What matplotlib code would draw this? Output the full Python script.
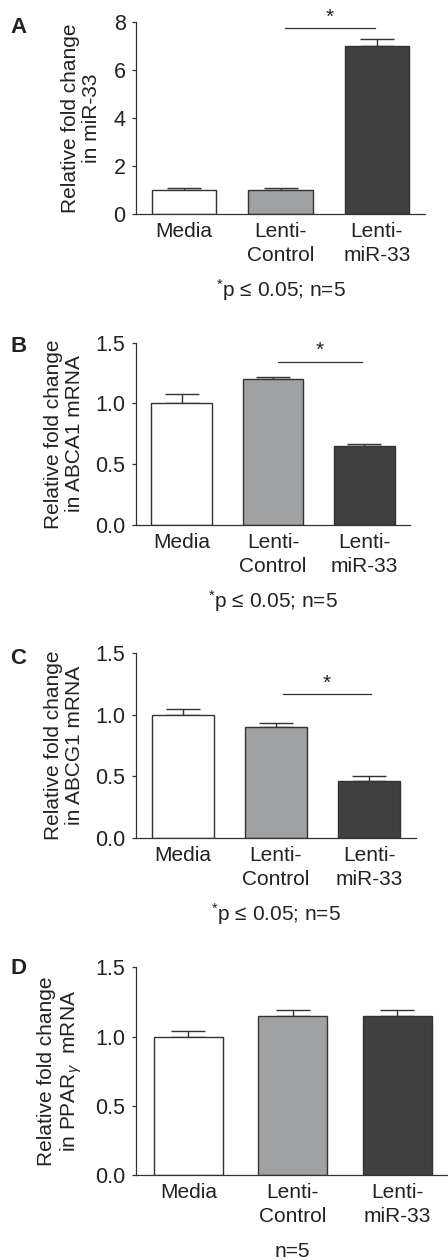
"""
Four stacked bar panels: miR-33, ABCA1, ABCG1 and PPARgamma fold change
for Media / Lenti-Control / Lenti-miR-33.
"""

import matplotlib
matplotlib.use("Agg")
import matplotlib.pyplot as plt
import numpy as np

plt.rcParams["font.family"] = ["Liberation Sans", "DejaVu Sans"]
plt.rcParams["mathtext.fontset"] = "custom"
plt.rcParams["mathtext.rm"] = "Liberation Sans"
plt.rcParams["mathtext.it"] = "Liberation Sans:italic"
plt.rcParams["mathtext.bf"] = "Liberation Sans:bold"

categories = ["Media", "Lenti-\nControl", "Lenti-\nmiR-33"]
bar_colors = ["#ffffff", "#a0a1a3", "#404040"]

mir33_mean = [1.0, 1.0, 7.0]
mir33_err = [0.1, 0.1, 0.3]
abca1_mean = [1.0, 1.2, 0.65]
abca1_err = [0.08, 0.02, 0.02]
abcg1_mean = [1.0, 0.9, 0.46]
abcg1_err = [0.05, 0.03, 0.04]
pparg_mean = [1.0, 1.15, 1.15]
pparg_err = [0.04, 0.04, 0.04]

mir33_ticks = [0, 2, 4, 6, 8]
mrna_ticks = [0.0, 0.5, 1.0, 1.5]

EDGE = "#333333"
TEXT = "#222222"

W, H = 448, 1260
fig = plt.figure(figsize=(W / 100, H / 100), dpi=100)


def axes_px(left, right, top, bottom):
    ax = fig.add_axes([left / W, 1 - bottom / H, (right - left) / W, (bottom - top) / H])
    ax._px = (left, right)
    return ax


def panel(ax, letter, letter_top, label_right, means, errs, ticks, fmt, ylabel, note, sig=None):
    x = np.arange(len(categories))
    ax.bar(x, means, width=0.665, color=bar_colors, edgecolor=EDGE, linewidth=1.0, zorder=2)
    ax.errorbar(x, means, yerr=[np.zeros(len(errs)), errs], fmt="none",
                ecolor=EDGE, elinewidth=1.0, capsize=12, capthick=1.0, zorder=1)
    ax.set_xlim(-0.5, 2.5)
    ax.set_ylim(ticks[0], ticks[-1])
    ax.set_yticks(ticks)
    ax.set_yticklabels([fmt.format(t) for t in ticks])
    ax.set_xticks(x)
    ax.set_xticklabels(categories, linespacing=1.3, va="top")
    ax.tick_params(axis="x", length=0, pad=6, labelsize=15, labelcolor=TEXT)
    ax.tick_params(axis="y", length=3, width=0.9, color=EDGE, pad=4.5,
                   labelsize=15.5, labelcolor=TEXT, direction="out")
    for s in ("top", "right"):
        ax.spines[s].set_visible(False)
    for s in ("left", "bottom"):
        ax.spines[s].set_color(EDGE)
        ax.spines[s].set_linewidth(0.9)
    ax.set_ylabel(ylabel, fontsize=15, color=TEXT, linespacing=1.15)
    left, right = ax._px
    ax.yaxis.set_label_coords((label_right - left) / (right - left), 0.5)
    fig.text(18.5 / W, 1 - letter_top / H, letter, fontsize=16,
             fontweight="bold", color=TEXT, ha="center", va="top")
    if sig is not None:
        x0, x1, yline, ystar = sig
        ax.plot([x0, x1], [yline, yline], color=EDGE, lw=0.9, clip_on=False)
        ax.text((x0 + x1) / 2, ystar, "*", fontsize=15, color=TEXT,
                ha="center", va="center", clip_on=False)
    ax.annotate(note, xy=(0.5, 0), xycoords="axes fraction", xytext=(0, -55),
                textcoords="offset points", ha="center", va="center",
                fontsize=15, color=TEXT)


ax_a = axes_px(136, 425, 22, 214)
panel(ax_a, "A", 17, 101, mir33_mean, mir33_err, mir33_ticks, "{:d}",
      "Relative fold change\nin miR-33", r"$^{*}$p ≤ 0.05; n=5",
      sig=(1.05, 1.98, 7.75, 8.2))

ax_b = axes_px(136, 410, 342.7, 525)
panel(ax_b, "B", 336, 84, abca1_mean, abca1_err, mrna_ticks, "{:.1f}",
      "Relative fold change\nin ABCA1 mRNA", r"$^{*}$p ≤ 0.05; n=5",
      sig=(1.055, 1.97, 1.344, 1.44))

ax_c = axes_px(136, 415.7, 653.3, 838)
panel(ax_c, "C", 648, 84, abcg1_mean, abcg1_err, mrna_ticks, "{:.1f}",
      "Relative fold change\nin ABCG1 mRNA", r"$^{*}$p ≤ 0.05; n=5",
      sig=(1.08, 2.02, 1.17, 1.26))

ax_d = axes_px(136, 449.5, 967.3, 1175)
panel(ax_d, "D", 958, 84, pparg_mean, pparg_err, mrna_ticks, "{:.1f}",
      "Relative fold change\nin PPAR$_{\\gamma}$  mRNA", "n=5")

fig.savefig("out.png", dpi=100)
